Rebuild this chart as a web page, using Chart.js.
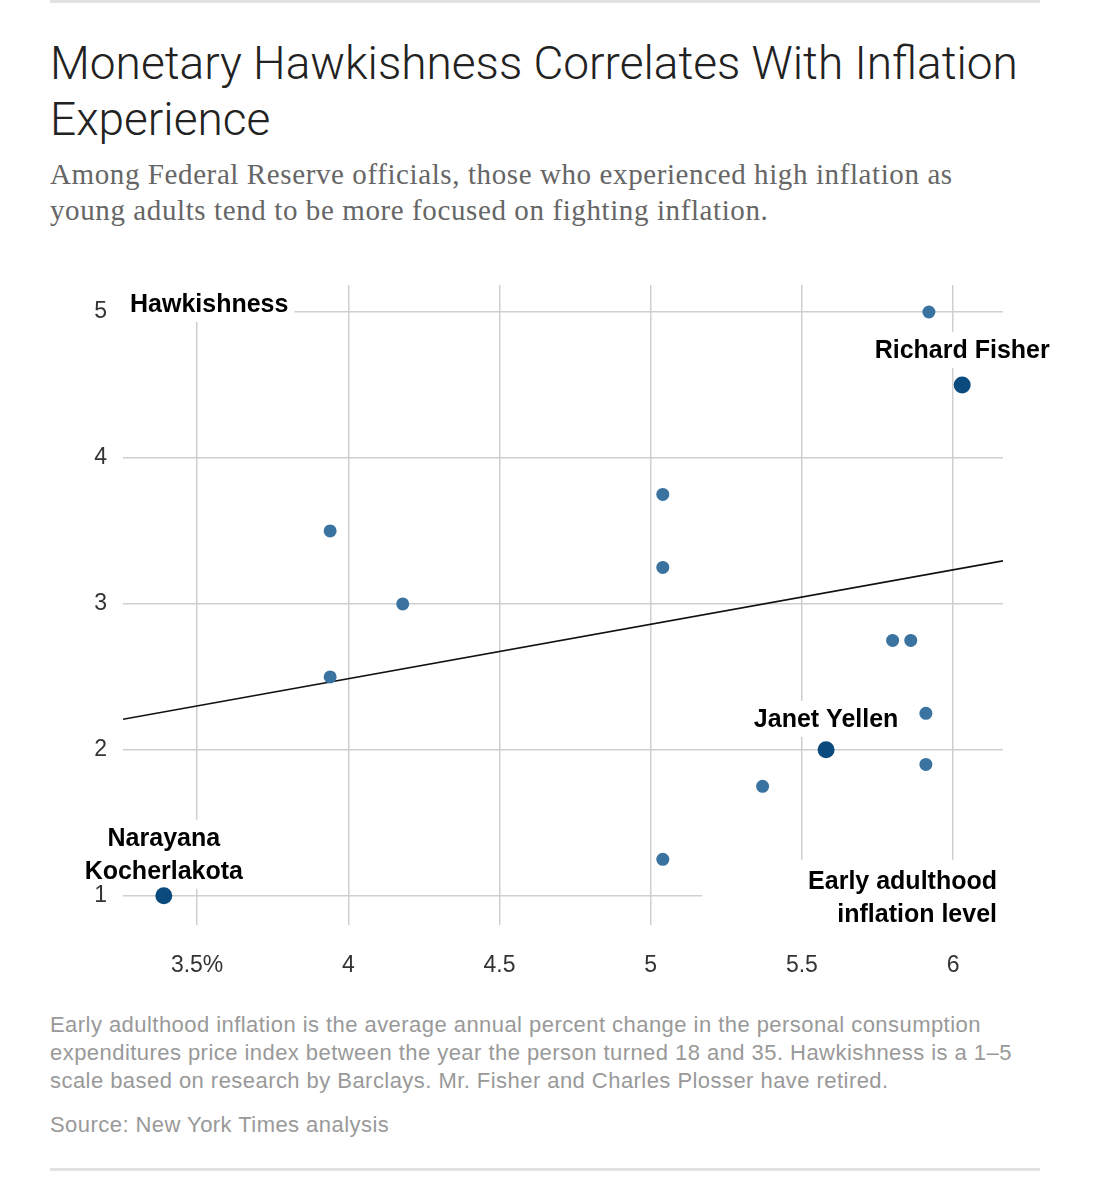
<!DOCTYPE html>
<html>
<head>
<meta charset="utf-8">
<script src="https://cdn.jsdelivr.net/npm/chart.js@4.4.1/dist/chart.umd.min.js"></script>
<style>
  html, body { margin: 0; padding: 0; background: #fff; }
  body { width: 1100px; height: 1181px; position: relative; overflow: hidden; }
  .rule { position: absolute; left: 50px; width: 990px; height: 3px; background: #e2e2e2; }
  #title { position: absolute; left: 50px; top: 35px; font-family: Roboto, "Liberation Sans", sans-serif; font-weight: 300; font-size: 46px; line-height: 56px; color: #222; white-space: nowrap; }
  #subtitle { position: absolute; left: 50px; top: 156px; font-family: "Liberation Serif", "DejaVu Serif", serif; font-size: 29px; letter-spacing: 0.6px; line-height: 36px; color: #666; white-space: nowrap; }
  #wrap { position: absolute; left: 0; top: 250px; width: 1100px; height: 760px; }
  #note { position: absolute; left: 50px; top: 1011px; font-family: "Liberation Sans", Arial, sans-serif; font-size: 22px; letter-spacing: 0.45px; line-height: 28px; color: #999; white-space: nowrap; }
  #source { position: absolute; left: 50px; top: 1111px; font-family: "Liberation Sans", Arial, sans-serif; font-size: 22px; letter-spacing: 0.45px; line-height: 28px; color: #999; white-space: nowrap; }
</style>
</head>
<body>
<div class="rule" style="top:0px"></div>
<div id="title">Monetary Hawkishness Correlates With Inflation<br>Experience</div>
<div id="subtitle">Among Federal Reserve officials, those who experienced high inflation as<br>young adults tend to be more focused on fighting inflation.</div>
<div id="wrap"><canvas id="c" width="1100" height="760"></canvas></div>
<div id="note">Early adulthood inflation is the average annual percent change in the personal consumption<br>expenditures price index between the year the person turned 18 and 35. Hawkishness is a 1–5<br>scale based on research by Barclays. Mr. Fisher and Charles Plosser have retired.</div>
<div id="source">Source: New York Times analysis</div>
<div class="rule" style="top:1168px"></div>
<script>
// ---- data ----
const officialX = [5.92, 5.04, 3.94, 5.04, 4.18, 3.94, 5.80, 5.86, 5.91, 5.91, 5.37, 5.04];
const officialY = [5.00, 3.75, 3.50, 3.25, 3.00, 2.50, 2.75, 2.75, 2.25, 1.90, 1.75, 1.25];
const namedLabels = ['Richard Fisher', 'Janet Yellen', 'Narayana Kocherlakota'];
const namedX = [6.03, 5.58, 3.39];
const namedY = [4.50, 2.00, 1.00];
const trendX = [3.255, 6.165];
const trendY = [2.21, 3.295];
const xTicks = [3.5, 4, 4.5, 5, 5.5, 6];
const yTicks = [1, 2, 3, 4, 5];
const xTickLabels = ['3.5%', '4', '4.5', '5', '5.5', '6'];
const yAxisTitle = 'Hawkishness';
const xAxisTitle = ['Early adulthood', 'inflation level'];

const LABEL_FONT = 'bold 25px "Liberation Sans", Arial, sans-serif';

const labelPlugin = {
  id: 'labels',
  beforeDatasetsDraw(chart) {
    const ctx = chart.ctx;
    const xs = chart.scales.x, ys = chart.scales.y, ca = chart.chartArea;
    ctx.save();
    ctx.font = LABEL_FONT;
    ctx.textBaseline = 'middle';
    function box(x0, y0, x1, y1) {
      x0 = Math.max(x0, ca.left);
      ctx.fillStyle = '#fff'; ctx.fillRect(x0, y0, x1 - x0, y1 - y0);
    }
    // Hawkishness (y axis title)
    const y5 = ys.getPixelForValue(5);
    let w = ctx.measureText(yAxisTitle).width;
    box(ca.left, ca.top, ca.left + 7 + w + 6, y5 + 10);
    ctx.fillStyle = '#000'; ctx.textAlign = 'left';
    ctx.fillText(yAxisTitle, ca.left + 7, y5 - 7);
    // x axis title
    const bx0 = xs.getPixelForValue(5.17);
    box(bx0, ca.bottom - 65, ca.right + 10, ca.bottom + 1);
    ctx.fillStyle = '#000'; ctx.textAlign = 'right';
    ctx.fillText(xAxisTitle[0], ca.right - 6, ca.bottom - 43);
    ctx.fillText(xAxisTitle[1], ca.right - 6, ca.bottom - 10);
    // named officials
    ctx.textAlign = 'center';
    const offsets = [[-34], [-30], [-57, -24]];
    namedLabels.forEach((name, i) => {
      const px = xs.getPixelForValue(namedX[i]);
      const py = ys.getPixelForValue(namedY[i]);
      let lines = i === 2 ? name.split(' ') : [name];
      let maxW = Math.max(...lines.map(l => ctx.measureText(l).width));
      const offs = offsets[i];
      box(px - maxW / 2 - 5, py + offs[0] - 19, px + maxW / 2 + 5, py + offs[offs.length - 1] + 17);
      ctx.fillStyle = '#000';
      lines.forEach((l, j) => ctx.fillText(l, px, py + offs[j]));
    });
    ctx.restore();
  }
};

new Chart(document.getElementById('c'), {
  data: {
    datasets: [
      {
        type: 'line',
        data: trendX.map((x, i) => ({ x, y: trendY[i] })),
        borderColor: '#111',
        borderWidth: 1.6,
        pointRadius: 0,
        fill: false,
        order: 3
      },
      {
        type: 'scatter',
        data: officialX.map((x, i) => ({ x, y: officialY[i] })),
        backgroundColor: '#3a72a0',
        borderWidth: 0,
        pointRadius: 6.5,
        order: 2
      },
      {
        type: 'scatter',
        data: namedX.map((x, i) => ({ x, y: namedY[i] })),
        backgroundColor: '#0b4a7c',
        borderWidth: 0,
        pointRadius: 8.5,
        order: 1
      }
    ]
  },
  options: {
    responsive: false,
    animation: false,
    devicePixelRatio: 1,
    layout: { padding: { top: 35, right: 97, left: 0, bottom: 0 } },
    plugins: { legend: { display: false }, tooltip: { enabled: false } },
    scales: {
      x: {
        type: 'linear',
        min: 3.255, max: 6.165,
        afterBuildTicks(scale) { scale.ticks = xTicks.map(v => ({ value: v })); },
        afterFit(scale) { scale.height = 85; },
        grid: { color: '#cfcfcf', lineWidth: 1.5, drawTicks: false },
        border: { display: false },
        ticks: {
          padding: 27,
          color: '#333',
          font: { family: '"Liberation Sans", Arial, sans-serif', size: 23 },
          callback(v) { const i = xTicks.indexOf(v); return i >= 0 ? xTickLabels[i] : ''; },
          maxRotation: 0
        }
      },
      y: {
        type: 'linear',
        min: 0.8, max: 5.185,
        afterBuildTicks(scale) { scale.ticks = yTicks.map(v => ({ value: v })); },
        afterFit(scale) { scale.width = 123; },
        grid: { color: '#cfcfcf', lineWidth: 1.5, drawTicks: false },
        border: { display: false },
        ticks: {
          padding: 16,
          color: '#333',
          font: { family: '"Liberation Sans", Arial, sans-serif', size: 23 },
          callback(v) { return String(v); }
        }
      }
    }
  },
  plugins: [labelPlugin]
});
</script>
</body>
</html>
